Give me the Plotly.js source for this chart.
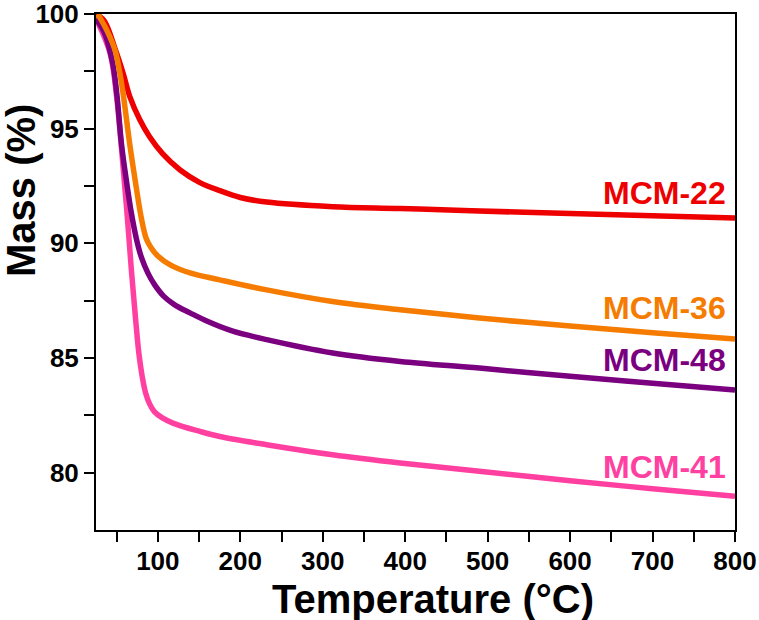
<!DOCTYPE html>
<html>
<head>
<meta charset="utf-8">
<script src="https://cdn.plot.ly/plotly-3.0.1.min.js"></script>
<style>
  html, body { margin: 0; padding: 0; background: #fff; }
  #chart { width: 759px; height: 620px; }
</style>
</head>
<body>
<div id="chart"></div>
<script>
// TGA mass-loss curves for four mesoporous/zeolite samples
const tempMCM22 = [25, 35, 48, 58, 66, 78, 90, 106, 127, 151, 175, 200, 232, 312, 394, 480, 600, 700, 800];
const massMCM22 = [100, 99.7, 98.5, 97.4, 96.4, 95.4, 94.65, 93.9, 93.2, 92.65, 92.3, 92.0, 91.8, 91.6, 91.52, 91.42, 91.3, 91.2, 91.1];

const tempMCM41 = [25, 42, 50, 56, 62, 68, 73, 77, 81, 85, 90, 96, 105, 119, 151, 175, 232, 312, 394, 490, 600, 700, 800];
const massMCM41 = [99.8, 98.3, 96.4, 94.1, 91.6, 88.8, 86.7, 85.2, 84.2, 83.5, 83.0, 82.65, 82.4, 82.15, 81.8, 81.58, 81.22, 80.78, 80.42, 80.06, 79.65, 79.3, 78.97];

const tempMCM48 = [25, 35, 45, 50, 56, 62, 68, 74, 80, 88, 96, 107, 120, 139, 160, 190, 232, 312, 394, 490, 600, 700, 800];
const massMCM48 = [99.8, 99.2, 97.9, 96.6, 94.3, 92.7, 91.3, 90.2, 89.4, 88.7, 88.2, 87.7, 87.33, 86.97, 86.6, 86.18, 85.8, 85.22, 84.85, 84.56, 84.2, 83.9, 83.6];

const tempMCM36 = [27, 38, 48, 53, 58, 66, 74, 80, 86, 92, 100, 115, 139, 175, 232, 312, 394, 490, 600, 700, 800];
const massMCM36 = [100, 99.3, 98.43, 97.6, 96.5, 94.3, 92.4, 91.1, 90.2, 89.8, 89.45, 89.06, 88.71, 88.41, 87.97, 87.46, 87.1, 86.74, 86.4, 86.1, 85.83];

const sampleNames = ['MCM-22', 'MCM-36', 'MCM-48', 'MCM-41'];
const labelTemps = [791, 791, 791, 791];
const labelMasses = [92.2, 87.2, 84.9, 80.25];

const xTicks = [100, 200, 300, 400, 500, 600, 700, 800];
const xMinor = [50, 150, 250, 350, 450, 550, 650, 750];
const yTicks = [80, 85, 90, 95, 100];
const yMinor = [82.5, 87.5, 92.5, 97.5];

const colors = {
  'MCM-22': '#ee0000',
  'MCM-36': '#f57c00',
  'MCM-48': '#7b0080',
  'MCM-41': '#ff40a0'
};

const FONT = 'Liberation Sans, Arial, sans-serif';

function curve(x, y, name) {
  return {
    x: x, y: y, name: name, type: 'scatter', mode: 'lines',
    line: { color: colors[name], width: 5.5, shape: 'spline', smoothing: 1 },
    hoverinfo: 'x+y+name'
  };
}

const traces = [
  curve(tempMCM22, massMCM22, 'MCM-22'),
  curve(tempMCM41, massMCM41, 'MCM-41'),
  curve(tempMCM48, massMCM48, 'MCM-48'),
  curve(tempMCM36, massMCM36, 'MCM-36')
];

const labels = sampleNames.map((n, i) => ({
  x: labelTemps[i], y: labelMasses[i], xref: 'x', yref: 'y',
  text: '<b>' + n + '</b>', showarrow: false,
  xanchor: 'right', yanchor: 'middle',
  font: { family: FONT, size: 32, color: colors[n] }
}));

// axis titles, positioned in pixels and converted to paper fractions
const W = 759, H = 620, mL = 96, mR = 24, mT = 14, mB = 90;
const pw = W - mL - mR, ph = H - mT - mB;
const axisTitles = [
  { px: 433, py: 599, text: '<b>Temperature (°C)</b>', angle: 0 },
  { px: 21, py: 191, text: '<b>Mass (%)</b>', angle: -90 }
].map(a => ({
  x: (a.px - mL) / pw, y: 1 - (a.py - mT) / ph,
  xref: 'paper', yref: 'paper', text: a.text, textangle: a.angle,
  showarrow: false, xanchor: 'center', yanchor: 'middle',
  font: { family: FONT, size: 40, color: '#000' }
}));

const tickFont = { family: FONT, size: 26, color: '#000' };
const bold = v => '<b>' + v + '</b>';

const axisCommon = {
  showgrid: false, zeroline: false,
  showline: true, linecolor: '#000', linewidth: 2, mirror: true,
  tickmode: 'array', ticks: 'outside', ticklen: 10, tickwidth: 2, tickcolor: '#000',
  tickfont: tickFont, ticklabeloverflow: 'allow'
};

const layout = {
  width: W, height: H,
  margin: { l: mL, r: mR, t: mT, b: mB },
  paper_bgcolor: '#fff', plot_bgcolor: '#fff',
  showlegend: false,
  font: { family: FONT, color: '#000' },
  xaxis: Object.assign({}, axisCommon, {
    range: [25, 800.001],
    tickvals: xTicks, ticktext: xTicks.map(bold), ticklabelstandoff: -3,
    minor: { tickmode: 'array', tickvals: xMinor,
             ticks: 'outside', ticklen: 10, tickwidth: 2, tickcolor: '#000' }
  }),
  yaxis: Object.assign({}, axisCommon, {
    range: [77.5, 100.001],
    tickvals: yTicks, ticktext: yTicks.map(bold),
    minor: { tickmode: 'array', tickvals: yMinor,
             ticks: 'outside', ticklen: 10, tickwidth: 2, tickcolor: '#000' }
  }),
  annotations: labels.concat(axisTitles)
};

Plotly.newPlot('chart', traces, layout, { displayModeBar: false, staticPlot: true });
</script>
</body>
</html>
